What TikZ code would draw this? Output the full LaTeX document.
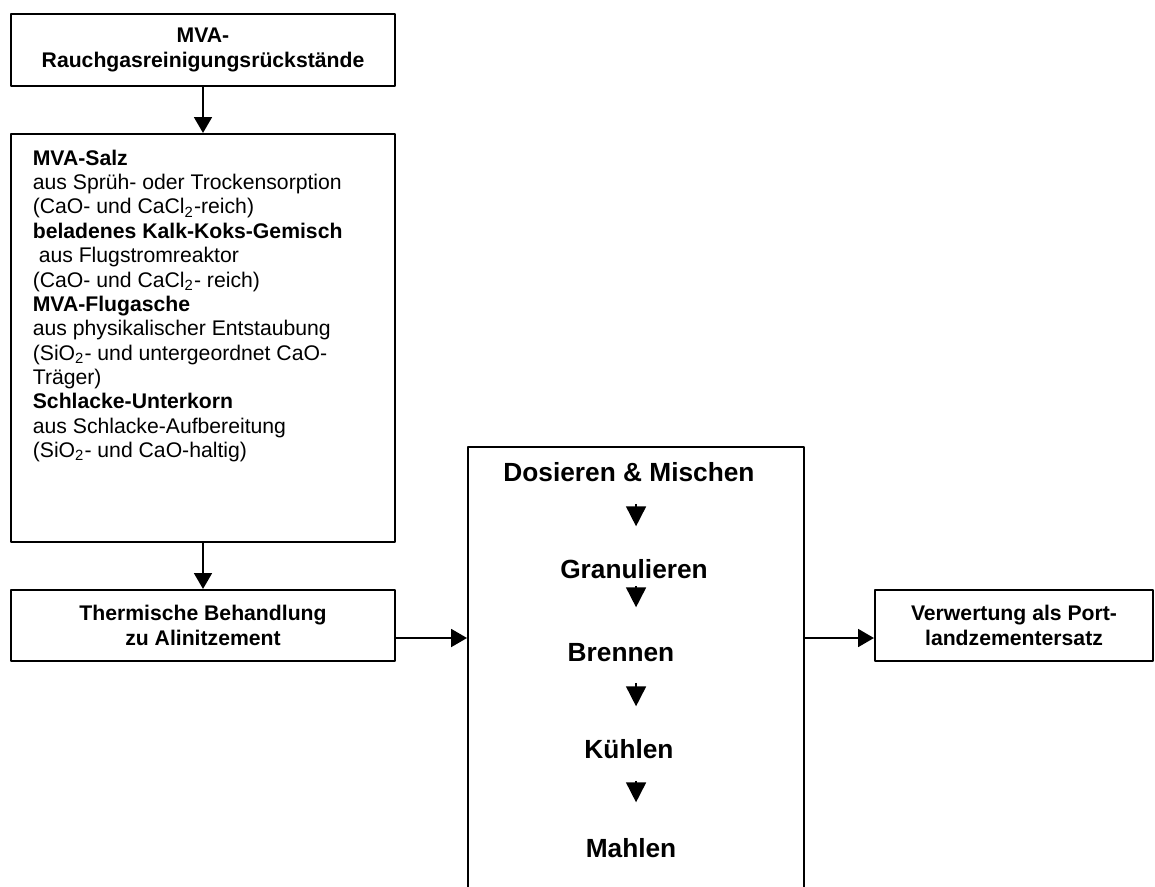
\documentclass[tikz,border=0pt]{standalone}
\usepackage{fontspec}
\setmainfont{Liberation Sans}
\usetikzlibrary{arrows.meta}
\def\pix{0.472pt}
\tikzset{
  kasten/.style={draw, line width=1pt, inner sep=0pt, align=center, font=\bfseries\fontsize{10}{11.5}\selectfont},
  schritt/.style={anchor=base, inner sep=0pt, text height=8.9pt, text depth=0pt, font=\bfseries\fontsize{12.4}{14}\selectfont},
  spitze/.style={-{Triangle[length=9.4pt,width=9.4pt]}}
}
\begin{document}
\begin{tikzpicture}[x=\pix, y=-\pix, line join=round, line width=0.8pt, >={Triangle[length=7.5pt,width=8.5pt]}]
\useasboundingbox (0,0) rectangle (1155,886);
\clip (0,0) rectangle (1155,886);
% linke Spalte
\node[kasten, minimum width=384*\pix, minimum height=72*\pix] (rgr) at (203,50) {MVA-\\Rauchgasreinigungsrückstände};
\node[kasten, minimum width=384*\pix, minimum height=408*\pix] (mva) at (203,338) {};
\node[anchor=north west, inner sep=0pt, align=left, font=\fontsize{10}{11.5}\selectfont] (mvatext) at (32,149) {\textbf{MVA-Salz}\\
  aus Sprüh- oder Trockensorption\\
  (CaO- und CaCl\textsubscript{2}-reich)\\
  \textbf{beladenes Kalk-Koks-Gemisch}\\
  \hspace*{0.28em}aus Flugstromreaktor\\
  (CaO- und CaCl\textsubscript{2}- reich)\\
  \textbf{MVA-Flugasche}\\
  aus physikalischer Entstaubung\\
  (SiO\textsubscript{2}- und untergeordnet CaO-\\
  Träger)\\
  \textbf{Schlacke-Unterkorn}\\
  aus Schlacke-Aufbereitung\\
  (SiO\textsubscript{2}- und CaO-haltig)};
\node[kasten, minimum width=384*\pix, minimum height=71*\pix] (therm) at (203,625.5) {Thermische Behandlung\\zu Alinitzement};
% Mitte und rechts
\node[draw, line width=1pt, inner sep=0pt, minimum width=336*\pix, minimum height=520*\pix, anchor=north west] (proc) at (467,446) {};
\node[kasten, minimum width=278*\pix, minimum height=71*\pix] (verw) at (1014,625.5) {Verwertung als Port-\\landzementersatz};
\node[schritt] (dos) at (629,481) {Dosieren \& Mischen};
\node[schritt] (gran) at (634,578) {Granulieren};
\node[schritt] (brenn) at (621,661) {Brennen};
\node[schritt] (kuehl) at (629,758) {Kühlen};
\node[schritt] (mahl) at (631,857) {Mahlen};
\coordinate (pfeil) at (0,638);
\draw[->] (rgr) -- (mva);
\draw[->] (mva) -- (therm);
\draw[->] (therm.east |- pfeil) -- (proc.west |- pfeil);
\draw[->] (proc.east |- pfeil) -- (verw.west |- pfeil);
\foreach \a/\b/\s/\e in {dos/gran/22/32, gran/brenn/7/34, brenn/kuehl/21/32, kuehl/mahl/22/35}
  \draw[spitze, shorten <=\s*\pix, shorten >=\e*\pix] (\a.south -| proc.center) -- (\b.north -| proc.center);
\end{tikzpicture}
\end{document}
